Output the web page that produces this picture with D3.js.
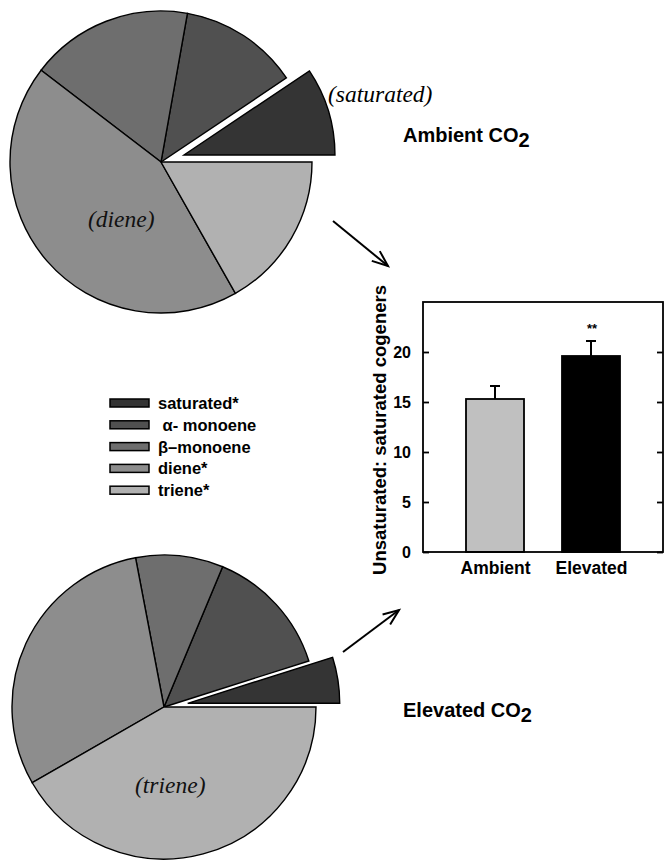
<!DOCTYPE html>
<html>
<head>
<meta charset="utf-8">
<script src="https://cdn.jsdelivr.net/npm/d3@7"></script>
<style>
  body { margin: 0; background: #fff; }
  svg { display: block; }
</style>
</head>
<body>
<svg id="chart"></svg>
<script>
// cogener classes (pie slices, counter-clockwise from 3 o'clock)
const classes = ["saturated", "alpha", "beta", "diene", "triene"];
const legendLabels = ["saturated*", "\u00a0\u03b1- monoene", "\u03b2\u2013monoene", "diene*", "triene*"];
const sliceColors = ["#343434", "#505050", "#6e6e6e", "#8d8d8d", "#b1b1b1"];

// percent of total
const ambientShares = [9.4, 12.8, 17.4, 43.6, 16.8];
const elevatedShares = [4.9, 13.8, 9.3, 30.3, 41.7];

// bar chart
const treatments = ["Ambient", "Elevated"];
const ratioMeans = [15.3, 19.6];
const ratioErrors = [1.3, 1.5];
const barColors = ["#c0c0c0", "#000000"];
const yTicks = [0, 5, 10, 15, 20];

const width = 665, height = 861;
const svg = d3.select("#chart").attr("width", width).attr("height", height);

const pie = d3.pie().sort(null)
  .startAngle(Math.PI / 2)
  .endAngle(Math.PI / 2 - 2 * Math.PI);

function drawPie(values, cx, cy, r, labelDx, labelDy, labelText) {
  const g = svg.append("g").attr("transform", `translate(${cx},${cy})`);
  const arc = d3.arc().innerRadius(0).outerRadius(r);
  const arcs = pie(values);
  g.selectAll("path")
    .data(arcs)
    .join("path")
    .attr("d", arc)
    .attr("fill", (d, i) => sliceColors[i])
    .attr("stroke", "#000")
    .attr("stroke-width", 1.4)
    .attr("transform", (d, i) => {
      if (i !== 0) return null;
      // pull the saturated slice out along its bisector
      const m = (d.startAngle + d.endAngle) / 2;
      return `translate(${24 * Math.sin(m)},${-24 * Math.cos(m)})`;
    });
  g.append("text")
    .attr("x", labelDx).attr("y", labelDy)
    .attr("font-family", "Liberation Serif, Times New Roman, serif")
    .attr("font-style", "italic")
    .attr("font-size", 23.5)
    .attr("fill", "#111")
    .text(labelText);
}

drawPie(ambientShares, 161, 162, 151, -73, 65, "(diene)");
drawPie(elevatedShares, 164, 707, 152, -29, 86, "(triene)");

// "(saturated)" beside the exploded slice of the top pie
svg.append("text")
  .attr("x", 328).attr("y", 102)
  .attr("font-family", "Liberation Serif, Times New Roman, serif")
  .attr("font-style", "italic")
  .attr("font-size", 23.5)
  .text("(saturated)");

// CO2 titles
function co2Title(x, y, word) {
  const t = svg.append("text")
    .attr("x", x).attr("y", y)
    .attr("font-family", "Liberation Sans, Arial, sans-serif")
    .attr("font-weight", "bold")
    .attr("font-size", 20);
  t.append("tspan").text(word + " CO");
  t.append("tspan").attr("dy", 5).text("2");
}
co2Title(403, 142, "Ambient");
co2Title(403, 717, "Elevated");

// arrows
function arrow(x1, y1, x2, y2) {
  const a = Math.atan2(y2 - y1, x2 - x1);
  const len = 17, spread = 0.38;
  svg.append("line")
    .attr("x1", x1).attr("y1", y1).attr("x2", x2).attr("y2", y2)
    .attr("stroke", "#000").attr("stroke-width", 2);
  const pts = [
    [x2 - len * Math.cos(a - spread), y2 - len * Math.sin(a - spread)],
    [x2, y2],
    [x2 - len * Math.cos(a + spread), y2 - len * Math.sin(a + spread)]
  ];
  svg.append("path")
    .attr("d", d3.line()(pts))
    .attr("fill", "none")
    .attr("stroke", "#000").attr("stroke-width", 2);
}
arrow(333, 221, 388, 266);
arrow(343, 652, 399, 610);

// legend
const legend = svg.append("g");
const rows = legend.selectAll("g")
  .data(legendLabels)
  .join("g")
  .attr("transform", (d, i) => `translate(110,${403 + i * 21.8})`);
rows.append("rect")
  .attr("x", 0).attr("y", -4).attr("width", 39).attr("height", 8)
  .attr("fill", (d, i) => sliceColors[i])
  .attr("stroke", "#000").attr("stroke-width", 1.5);
rows.append("text")
  .attr("x", 48).attr("y", 6)
  .attr("font-family", "Liberation Sans, Arial, sans-serif")
  .attr("font-weight", "bold")
  .attr("font-size", 16.5)
  .text(d => d);

// bar chart
const plotL = 423, plotR = 663, plotT = 302, plotB = 552;
const x = d3.scalePoint().domain(treatments).range([plotL, plotR]).padding(0.75);
const y = d3.scaleLinear().domain([0, 25]).range([plotB, plotT]);
const barW = 58;

const bars = svg.append("g");
bars.selectAll("rect")
  .data(treatments)
  .join("rect")
  .attr("x", d => x(d) - barW / 2)
  .attr("y", (d, i) => y(ratioMeans[i]))
  .attr("width", barW)
  .attr("height", (d, i) => y(0) - y(ratioMeans[i]))
  .attr("fill", (d, i) => barColors[i])
  .attr("stroke", "#000").attr("stroke-width", 1.8);

// error bars (upper only)
treatments.forEach((t, i) => {
  const cx = x(t), y0 = y(ratioMeans[i]), y1 = y(ratioMeans[i] + ratioErrors[i]);
  bars.append("line").attr("x1", cx).attr("x2", cx).attr("y1", y0).attr("y2", y1)
    .attr("stroke", "#000").attr("stroke-width", 2);
  bars.append("line").attr("x1", cx - 5).attr("x2", cx + 5).attr("y1", y1).attr("y2", y1)
    .attr("stroke", "#000").attr("stroke-width", 2);
});

svg.append("text")
  .attr("x", x("Elevated") + 1).attr("y", y(ratioMeans[1] + ratioErrors[1]) - 8)
  .attr("text-anchor", "middle")
  .attr("font-family", "Liberation Sans, Arial, sans-serif")
  .attr("font-weight", "bold")
  .attr("font-size", 13)
  .text("**");

// frame
svg.append("rect")
  .attr("x", plotL).attr("y", plotT).attr("width", plotR - plotL).attr("height", plotB - plotT)
  .attr("fill", "none").attr("stroke", "#000").attr("stroke-width", 1.8);

const yAxisL = d3.axisLeft(y).tickValues(yTicks).tickSizeInner(-6).tickSizeOuter(0).tickPadding(12);
const yAxisR = d3.axisRight(y).tickValues(yTicks).tickSizeInner(-6).tickSizeOuter(0).tickFormat("");

const gl = svg.append("g").attr("transform", `translate(${plotL},0)`).call(yAxisL);
const gr = svg.append("g").attr("transform", `translate(${plotR},0)`).call(yAxisR);
[gl, gr].forEach(g => {
  g.select(".domain").remove();
  g.selectAll(".tick line").attr("stroke", "#000").attr("stroke-width", 1.8);
});
gl.selectAll(".tick text")
  .attr("font-family", "Liberation Sans, Arial, sans-serif")
  .attr("font-weight", "bold")
  .attr("font-size", 16)
  .attr("fill", "#000");

const xAxis = d3.axisBottom(x).tickSize(0).tickPadding(10);
const gx = svg.append("g").attr("transform", `translate(0,${plotB})`).call(xAxis);
gx.select(".domain").remove();
gx.selectAll(".tick text")
  .attr("font-family", "Liberation Sans, Arial, sans-serif")
  .attr("font-weight", "bold")
  .attr("font-size", 17.5)
  .attr("fill", "#000");

svg.append("text")
  .attr("transform", `translate(386,${(287 + 573) / 2}) rotate(-90)`)
  .attr("text-anchor", "middle")
  .attr("font-family", "Liberation Sans, Arial, sans-serif")
  .attr("font-weight", "bold")
  .attr("font-size", 18.5)
  .text("Unsaturated: saturated cogeners");
</script>
</body>
</html>
